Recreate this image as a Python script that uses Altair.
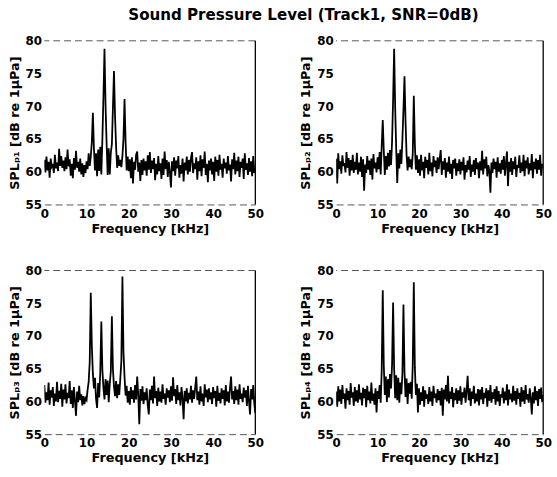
import altair as alt
import pandas as pd

TITLE = "Sound Pressure Level (Track1, SNR=0dB)"
X_TITLE = "Frequency [kHz]"
Y_TITLES = ["SPLₚ₁ [dB re 1μPa]", "SPLₚ₂ [dB re 1μPa]", "SPLₚ₃ [dB re 1μPa]", "SPLₚ₄ [dB re 1μPa]"]
X_TICKS = [0, 10, 20, 30, 40, 50]
Y_TICKS = [55, 60, 65, 70, 75, 80]
FREQ_STEP = 0.25  # kHz between spectrum bins, 0 .. 50 kHz

SPL_P1 = [
    61.8, 59.9, 62.3, 60.2, 61.5, 59.1, 62.0, 60.8, 61.2, 59.8, 62.6, 60.5, 61.4, 60.1, 63.5, 60.9, 62.4, 60.6, 61.7, 60.1,
    62.2, 60.4, 63.4, 60.8, 61.9, 59.4, 61.2, 59.0, 62.1, 60.3, 63.2, 60.6, 61.5, 60.0, 62.0, 59.6, 61.3, 59.2, 61.0, 59.8,
    61.6, 60.4, 62.8, 60.9, 62.3, 64.5, 69.0, 63.5, 60.2, 62.8, 59.3, 63.4, 60.1, 63.8, 59.6, 65.0, 71.5, 78.8, 70.2, 64.3,
    59.5, 63.6, 59.6, 62.9, 64.2, 69.8, 75.4, 68.5, 63.8, 60.6, 62.5, 60.9, 61.8, 60.7, 62.4, 65.0, 71.1, 64.6, 60.2, 62.3,
    60.1, 61.9, 59.0, 62.2, 58.2, 61.5, 60.3, 62.6, 63.1, 60.0, 61.4, 58.6, 61.8, 59.5, 62.0, 60.2, 61.6, 59.4, 62.5, 60.3,
    63.0, 59.8, 61.7, 60.4, 62.1, 58.7, 61.2, 59.6, 62.4, 60.1, 61.3, 58.9, 62.0, 59.5, 63.1, 60.4, 61.8, 59.2, 61.5, 59.9,
    57.6, 61.6, 60.1, 62.2, 59.4, 61.7, 60.5, 62.4, 59.1, 61.0, 59.7, 62.0, 58.5, 61.4, 60.2, 62.3, 59.6, 61.8, 60.0, 62.1,
    63.0, 59.8, 61.3, 60.4, 62.2, 58.8, 61.6, 60.1, 62.5, 59.3, 61.9, 60.6, 63.1, 59.5, 61.2, 58.4, 61.7, 60.2, 62.0, 59.6,
    61.5, 58.6, 62.3, 60.0, 61.8, 59.4, 62.6, 60.3, 61.2, 59.1, 62.0, 60.5, 61.4, 59.7, 62.4, 60.2, 61.1, 58.5, 61.9, 60.4,
    62.9, 59.6, 61.7, 60.1, 62.3, 59.2, 61.5, 60.6, 62.0, 58.9, 62.8, 60.3, 61.3, 59.5, 62.1, 60.0, 61.6, 59.3, 62.4, 59.8,
    60.5,
]

SPL_P2 = [
    62.0, 58.2, 62.8, 60.4, 61.6, 59.7, 62.5, 60.9, 61.3, 59.9, 63.0, 60.6, 62.1, 59.4, 61.8, 60.2, 62.6, 59.8, 61.5, 60.3,
    62.9, 59.6, 61.4, 60.0, 62.3, 59.2, 61.9, 57.1, 61.1, 59.8, 62.4, 60.3, 61.7, 59.5, 62.0, 58.8, 62.7, 60.5, 61.4, 59.9,
    62.2, 60.4, 63.0, 59.6, 64.0, 67.9, 63.2, 59.5, 62.4, 60.3, 62.9, 60.8, 63.3, 61.0, 64.6, 71.0, 78.8, 69.8, 63.4, 58.3,
    62.8, 60.5, 63.4, 61.2, 65.0, 69.5, 74.6, 67.8, 62.6, 60.2, 62.3, 60.7, 61.9, 60.4, 62.8, 71.6, 64.2, 60.3, 62.5, 59.8,
    61.9, 59.4, 62.6, 60.2, 61.5, 59.0, 62.3, 60.6, 61.8, 59.6, 62.9, 60.1, 61.4, 59.3, 62.4, 60.7, 61.7, 59.8, 62.2, 60.4,
    62.0, 63.3, 59.5, 61.6, 60.3, 62.1, 59.1, 61.4, 60.0, 62.3, 59.7, 61.2, 58.9, 61.8, 60.5, 62.0, 59.4, 61.3, 60.1, 61.9,
    59.6, 61.5, 60.2, 62.2, 58.8, 61.0, 59.9, 61.7, 60.3, 62.4, 59.2, 61.1, 60.0, 61.8, 59.5, 62.1, 60.4, 61.4, 59.0, 61.6,
    60.2, 63.2, 59.6, 61.9, 60.5, 62.3, 59.3, 61.0, 60.1, 56.8, 61.4, 59.8, 62.0, 60.4, 61.5, 59.1, 62.2, 60.0, 61.3, 59.7,
    61.8, 60.3, 62.4, 59.4, 61.2, 63.1, 57.8, 61.5, 60.0, 62.1, 59.5, 61.6, 60.4, 62.3, 59.2, 61.0, 60.6, 62.5, 59.8, 61.4,
    60.1, 62.6, 59.3, 61.7, 60.5, 62.2, 59.6, 61.3, 60.2, 62.7, 59.0, 61.5, 60.4, 62.0, 59.7, 61.8, 60.3, 62.6, 59.4, 61.2,
    60.6,
]

SPL_P3 = [
    62.5, 59.8, 61.4, 60.2, 62.9, 59.5, 61.7, 60.6, 62.2, 59.3, 61.2, 60.0, 63.0, 59.9, 61.6, 60.4, 62.7, 59.2, 61.8, 60.3,
    62.6, 59.7, 61.3, 60.5, 63.1, 59.6, 61.7, 59.0, 62.2, 60.1, 57.8, 61.5, 59.9, 62.4, 60.2, 61.1, 59.4, 60.8, 59.6, 60.5,
    60.2, 61.8, 63.0, 66.0, 76.6, 68.5, 64.2, 62.0, 63.6, 60.4, 59.0, 62.8, 60.6, 64.5, 72.2, 64.8, 62.1, 60.3, 63.4, 61.0,
    63.2, 59.9, 62.7, 64.6, 73.0, 64.9, 62.3, 60.8, 63.1, 60.5, 62.6, 61.0, 63.5, 66.2, 79.1, 67.5, 63.8, 60.9, 62.4, 59.8,
    61.6, 59.5, 62.2, 60.4, 61.7, 59.8, 62.5, 60.3, 63.8, 61.0, 56.5, 61.9, 60.1, 62.3, 59.6, 61.4, 60.2, 62.0, 59.4, 58.0,
    61.8, 60.2, 62.4, 59.7, 63.8, 60.5, 61.6, 59.3, 62.1, 60.0, 61.5, 59.8, 62.6, 60.4, 61.2, 59.5, 62.0, 60.6, 61.7, 59.9,
    62.3, 60.1, 63.7, 60.8, 61.9, 59.6, 62.5, 60.2, 61.4, 59.4, 62.2, 60.5, 57.3, 61.6, 60.0, 62.0, 59.7, 61.3, 60.3, 62.4,
    59.8, 61.7, 60.4, 62.1, 63.8, 60.2, 61.5, 59.5, 62.3, 60.0, 61.2, 59.3, 62.6, 60.6, 61.8, 59.9, 62.0, 60.3, 61.4, 59.6,
    62.2, 60.5, 61.6, 59.2, 62.4, 60.1, 61.3, 59.7, 62.0, 60.4, 61.7, 59.4, 62.5, 60.0, 61.5, 59.8, 62.1, 63.8, 60.3, 61.6,
    59.6, 62.3, 60.2, 61.8, 59.5, 62.6, 60.4, 61.2, 59.9, 62.1, 60.6, 61.7, 59.3, 62.4, 60.0, 58.0, 61.9, 60.3, 62.5, 59.7,
    58.2,
]

SPL_P4 = [
    61.5, 59.2, 62.3, 60.0, 61.8, 59.6, 62.5, 60.4, 61.2, 58.9, 62.0, 60.2, 61.6, 59.5, 62.8, 60.6, 61.4, 59.3, 62.2, 60.0,
    61.7, 59.8, 62.6, 60.3, 61.3, 59.4, 62.1, 60.5, 61.9, 59.1, 62.4, 60.2, 61.5, 59.7, 62.9, 60.1, 61.2, 59.5, 62.0, 58.3,
    61.6, 60.4, 62.5, 59.8, 64.8, 77.0, 65.5, 61.0, 63.8, 59.9, 63.4, 60.6, 64.2, 62.0, 65.6, 75.1, 65.0, 60.5, 64.0, 60.2,
    63.6, 59.8, 62.9, 61.1, 64.3, 74.8, 64.6, 60.7, 63.5, 59.6, 62.8, 61.2, 63.0, 60.4, 65.8, 78.2, 65.2, 61.0, 62.7, 58.3,
    62.0, 59.5, 61.4, 60.1, 62.3, 59.2, 61.7, 60.4, 61.1, 59.6, 62.2, 60.0, 61.5, 59.3, 62.4, 60.5, 61.2, 59.8, 61.9, 60.2,
    61.6, 59.4, 62.1, 57.8, 61.8, 60.3, 62.5, 60.0, 63.9, 59.7, 61.5, 60.4, 62.2, 59.1, 61.3, 60.2, 62.0, 59.6, 61.7, 60.1,
    62.3, 59.5, 61.4, 60.6, 62.1, 59.8, 61.6, 63.9, 60.2, 62.0, 59.3, 61.5, 60.4, 62.4, 59.7, 61.2, 60.0, 61.9, 59.4, 61.8,
    60.3, 62.2, 59.6, 61.3, 60.5, 62.0, 59.2, 61.7, 60.1, 62.5, 59.8, 61.4, 60.4, 61.9, 59.5, 62.3, 60.0, 61.6, 59.3, 61.1,
    60.6, 62.1, 59.7, 61.5, 60.2, 62.6, 59.4, 61.8, 60.3, 61.2, 59.9, 62.4, 60.1, 61.6, 59.5, 62.0, 60.4, 61.3, 59.2, 62.2,
    60.0, 61.7, 59.6, 62.5, 60.3, 61.1, 59.8, 62.0, 60.5, 58.0, 61.4, 59.7, 62.3, 60.2, 61.6, 59.3, 61.9, 60.4, 62.1, 59.9,
    61.0,
]

FONT = "DejaVu Sans"
W_LEFT, W_RIGHT, H = 214, 210, 166
X_DOMAIN = [0, 50]
Y_DOMAIN = [55, 80]


def panel(values, ytitle, width):
    df = pd.DataFrame({"freq": [i * FREQ_STEP for i in range(len(values))], "spl": values})
    xs = alt.Scale(domain=X_DOMAIN, nice=False, zero=False)
    ys = alt.Scale(domain=Y_DOMAIN, nice=False, zero=False)
    xaxis = alt.Axis(values=X_TICKS, grid=False, ticks=False, domain=True,
                     domainColor="#555", domainDash=[7, 4], domainWidth=1,
                     labelPadding=4, titlePadding=3, labelOverlap=False, labelFlush=False)
    yaxis = alt.Axis(values=Y_TICKS, grid=False, ticks=False, domain=False,
                     labelPadding=3, titlePadding=4, labelOverlap=False, labelFlush=False)
    X = alt.X("freq:Q", scale=xs, title=X_TITLE, axis=xaxis)
    Y = alt.Y("spl:Q", scale=ys, title=ytitle, axis=yaxis)
    line = alt.Chart(df).mark_line(color="black", strokeWidth=1.8, clip=True).encode(x=X, y=Y)
    right = alt.Chart(pd.DataFrame({"freq": [X_DOMAIN[1]]})).mark_rule(
        color="black", strokeWidth=1.3).encode(x=X)
    top = alt.Chart(pd.DataFrame({"spl": [Y_DOMAIN[1]]})).mark_rule(
        color="#555", strokeWidth=1, strokeDash=[7, 4]).encode(y=Y)
    return alt.layer(line, top, right).properties(width=width, height=H)


row1 = alt.hconcat(panel(SPL_P1, Y_TITLES[0], W_LEFT), panel(SPL_P2, Y_TITLES[1], W_RIGHT), spacing=36)
row2 = alt.hconcat(panel(SPL_P3, Y_TITLES[2], W_LEFT), panel(SPL_P4, Y_TITLES[3], W_RIGHT), spacing=36)

chart = alt.vconcat(row1, row2, spacing=30).properties(
    title=alt.TitleParams(TITLE, font=FONT, fontSize=15.3, fontWeight="bold", anchor="middle",
                          offset=12, dx=24, color="black"),
    padding={"left": 8, "top": 4, "right": 5, "bottom": 5},
).configure_view(stroke=None).configure_axis(
    labelFont=FONT, labelFontSize=12, labelFontWeight="bold", labelColor="black",
    titleFont=FONT, titleFontSize=13, titleFontWeight="bold", titleColor="black",
)

chart.save("out.html", embed_options={"renderer": "svg", "actions": False})
